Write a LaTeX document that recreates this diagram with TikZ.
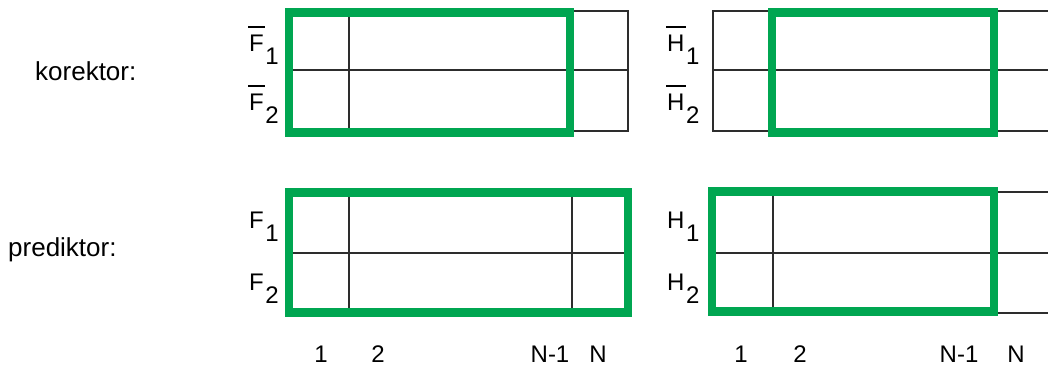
\documentclass[tikz,border=0pt]{standalone}
\usepackage{fontspec}
\setmainfont{Liberation Sans}
\definecolor{hlgreen}{RGB}{0,166,81}
\definecolor{gridgray}{RGB}{45,45,45}
\newcommand{\ovl}[1]{\begingroup\setbox0\hbox{#1}\rlap{\kern-1pt\raisebox{23.5pt}{\rule{\dimexpr\wd0+2pt\relax}{1.4pt}}}\box0\endgroup}
\newcommand{\lowsub}[1]{\kern1.5pt\raisebox{-13pt}{#1}}
\begin{document}
\begin{tikzpicture}[x=1pt,y=-1pt,
  gridline/.style={draw=gridgray, line width=1.1pt},
  hl/.style={draw=hlgreen, line width=8.5pt},
  lbl/.style={font=\fontsize{24}{28}\selectfont, inner sep=0pt, anchor=base west},
  num/.style={font=\fontsize{24}{28}\selectfont, inner sep=0pt, anchor=base},
  side/.style={font=\fontsize{26}{30}\selectfont, inner sep=0pt, anchor=base west}]
\useasboundingbox (0,0) rectangle (1048,368);
% side labels
\node[side] (kor) at (35,80) {korektor:};
\node[side] (pred) at (8,256) {prediktor:};
% top-left grid (F bar)
\draw[gridline] (289,11) rectangle (628,131);
\draw[gridline] (289,70) -- (628,70);
\draw[gridline] (349,11) -- (349,131);
\draw[hl] (289,12.5) rectangle (570,132.5);
% top-right grid (H bar)
\draw[gridline] (1050,11) -- (713,11) -- (713,131) -- (1050,131);
\draw[gridline] (713,70) -- (1050,70);
\draw[hl] (772,12.5) rectangle (994,132.5);
% bottom-left grid (F)
\draw[gridline] (289,192.5) rectangle (628,312.5);
\draw[gridline] (289,253) -- (628,253);
\draw[gridline] (349,192.5) -- (349,312.5);
\draw[gridline] (572,192.5) -- (572,312.5);
\draw[hl] (289,192.5) rectangle (628,312.5);
% bottom-right grid (H)
\draw[gridline] (712,192) -- (1050,192);
\draw[gridline] (712,313) -- (1050,313);
\draw[gridline] (712,253) -- (1050,253);
\draw[gridline] (773,192) -- (773,313);
\draw[hl] (712,191.5) rectangle (994,311.5);
% row labels
\node[lbl] (fb1) at (249,51) {\ovl{F}\lowsub{1}};
\node[lbl] (fb2) at (249,110) {\ovl{F}\lowsub{2}};
\node[lbl] (hb1) at (667,51) {\ovl{H}\lowsub{1}};
\node[lbl] (hb2) at (667,110) {\ovl{H}\lowsub{2}};
\node[lbl] (f1) at (249,228) {F\lowsub{1}};
\node[lbl] (f2) at (249,290) {F\lowsub{2}};
\node[lbl] (h1) at (667,228) {H\lowsub{1}};
\node[lbl] (h2) at (667,290) {H\lowsub{2}};
% column labels
\node[num] (cl1) at (321,362) {1};
\node[num] (cl2) at (378,362) {2};
\node[num] (cl3) at (550,362) {N-1};
\node[num] (cl4) at (598,362) {N};
\node[num] (cr1) at (741,362) {1};
\node[num] (cr2) at (800,362) {2};
\node[num] (cr3) at (959,362) {N-1};
\node[num] (cr4) at (1016,362) {N};
\end{tikzpicture}
\end{document}
